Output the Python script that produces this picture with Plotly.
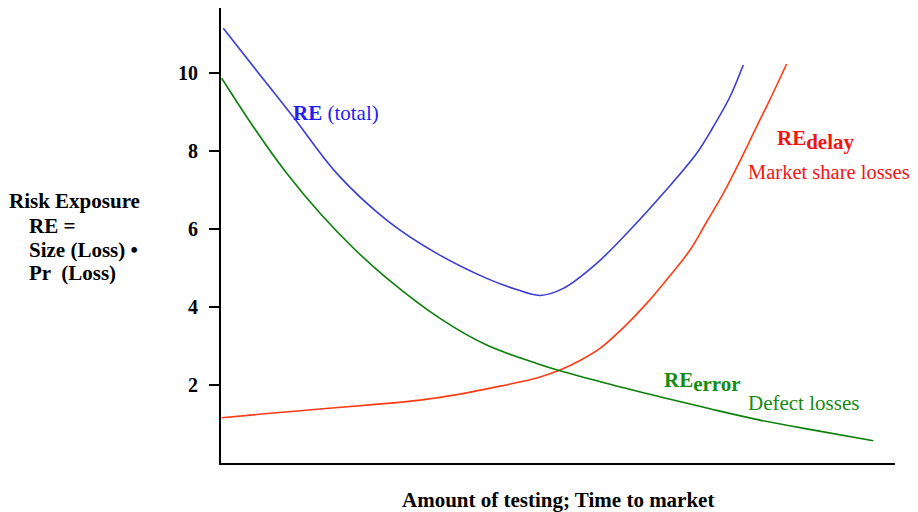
import plotly.graph_objects as go

# ---- data ----
total_x = [0.34, 5.79, 10.73, 17.17, 24.58, 32.0, 39.42, 43.62, 47.33, 50.79, 55.74, 60.68, 65.62, 70.58, 73.04, 75.52, 77.49]
total_y = [11.155, 9.957, 8.879, 7.433, 6.235, 5.380, 4.738, 4.466, 4.300, 4.481, 5.123, 5.978, 6.920, 7.947, 8.629, 9.399, 10.213]

delay_x = [0.10, 7.27, 14.69, 22.11, 29.53, 35.46, 41.39, 46.84, 50.30, 53.26, 56.23, 59.64, 63.16, 66.32, 69.59, 71.96, 74.53, 77.00, 79.47, 81.75, 83.92]
delay_y = [1.160, 1.276, 1.384, 1.491, 1.614, 1.768, 1.973, 2.181, 2.386, 2.630, 2.941, 3.463, 4.096, 4.746, 5.465, 6.158, 6.920, 7.749, 8.630, 9.437, 10.239]

error_x = [0.10, 4.79, 9.75, 14.69, 19.63, 24.58, 32.49, 39.42, 46.84, 50.30, 57.72, 65.13, 72.55, 79.97, 88.37, 96.78]
error_y = [9.872, 8.630, 7.433, 6.407, 5.516, 4.746, 3.712, 3.027, 2.556, 2.367, 2.020, 1.699, 1.390, 1.101, 0.830, 0.570]

y_ticks = [2, 4, 6, 8, 10]
y_tick_labels = ["2", "4", "6", "8", "10"]

x_range = [0, 100]
y_range = [0, 11.676]

SERIF = "Liberation Serif, Times New Roman, serif"
BLUE_LINE = "#3c3cd6"
RED_LINE = "#ff3c14"
GREEN_LINE = "#0a800a"
BLUE_TXT = "#1e1ef5"
RED_TXT = "#f51414"
GREEN_TXT = "#148c14"

fig = go.Figure()
for xs, ys, col in [(total_x, total_y, BLUE_LINE), (delay_x, delay_y, RED_LINE), (error_x, error_y, GREEN_LINE)]:
    fig.add_trace(go.Scatter(x=xs, y=ys, mode="lines",
                             line=dict(color=col, width=1.6, shape="spline", smoothing=1.0),
                             hoverinfo="skip"))

# page has an 8px body margin; compensate so the plot lands where the reference has it
OFF = 8
W, H = 910, 504
ML, MR, MT, MB = 213, 23, 0, 49
PW, PH = W - ML - MR, H - MT - MB


def px(xp):
    return (xp - OFF - ML) / PW


def py(yp):
    return (H + OFF - MB - yp) / PH


annotations = [
    dict(text="Risk Exposure", x=px(7), y=py(201), xanchor="left", yanchor="middle"),
    dict(text="RE =", x=px(27), y=py(226), xanchor="left", yanchor="middle"),
    dict(text="Size (Loss) •", x=px(27), y=py(250), xanchor="left", yanchor="middle"),
    dict(text="Pr  (Loss)", x=px(27), y=py(273), xanchor="left", yanchor="middle"),
    dict(text="Amount of testing; Time to market", x=0.5, y=py(500), xanchor="center", yanchor="middle"),
]
for a in annotations:
    a.update(xref="paper", yref="paper", showarrow=False,
             font=dict(family=SERIF, size=21, color="black", weight="bold"))

curve_labels = [
    dict(text="<b>RE</b> (total)", x=px(291), y=py(113), color=BLUE_TXT, size=21),
    dict(text="<b>RE<sub><span style='font-size:21px'>delay</span></sub></b>", x=px(775), y=py(140), color=RED_TXT, size=21),
    dict(text="Market share losses", x=px(746), y=py(172), color=RED_TXT, size=20.5),
    dict(text="<b>RE<sub><span style='font-size:21px'>error</span></sub></b>", x=px(662), y=py(382), color=GREEN_TXT, size=21),
    dict(text="Defect losses", x=px(746), y=py(403), color=GREEN_TXT, size=21),
]
for c in curve_labels:
    annotations.append(dict(text=c["text"], x=c["x"], y=c["y"], xref="paper", yref="paper",
                            xanchor="left", yanchor="middle", showarrow=False,
                            font=dict(family=SERIF, size=c["size"], color=c["color"])))

fig.update_layout(
    width=W, height=H,
    margin=dict(l=ML, r=MR, t=MT, b=MB),
    paper_bgcolor="white", plot_bgcolor="white",
    showlegend=False,
    hovermode=False,
    annotations=annotations,
    xaxis=dict(range=x_range, showgrid=False, zeroline=False, showline=True,
               linecolor="black", linewidth=2, ticks="", showticklabels=False, fixedrange=True),
    yaxis=dict(range=y_range, showgrid=False, zeroline=False, showline=True,
               linecolor="black", linewidth=2, ticks="outside", ticklen=10, tickwidth=2,
               tickcolor="black", tickvals=y_ticks, ticktext=y_tick_labels,
               ticklabelstandoff=7,
               tickfont=dict(family=SERIF, size=20, color="black", weight="bold"),
               fixedrange=True),
    yaxis2=dict(range=y_range, overlaying="y", side="left", anchor="x", showgrid=False,
                zeroline=False, showline=False, ticks="inside", ticklen=9, tickwidth=2,
                tickcolor="black", tickvals=y_ticks, showticklabels=False, fixedrange=True),
)

fig.write_html("out.html")
